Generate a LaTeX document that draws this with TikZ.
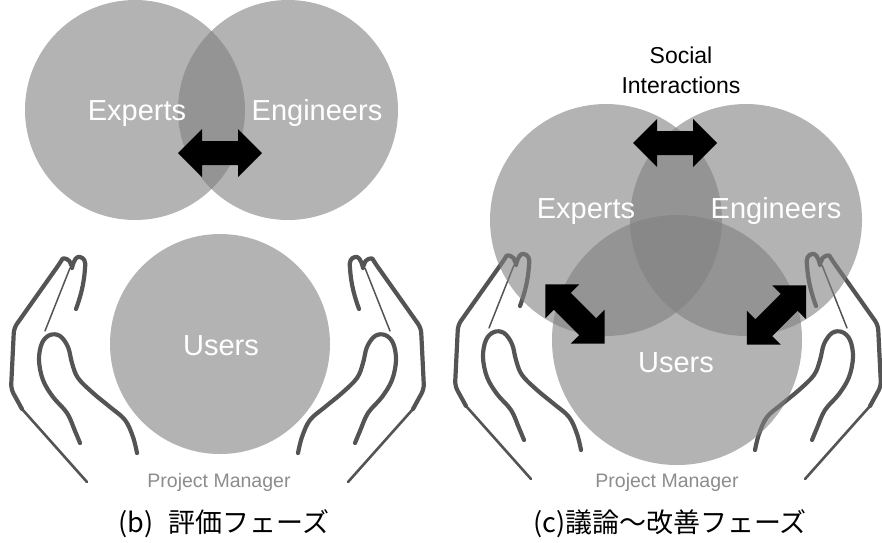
\documentclass[tikz,border=0pt]{standalone}
\usepackage{fontspec}
\setmainfont{Liberation Sans}
\newfontfamily\jpfont{Noto Sans CJK JP}
\definecolor{handgray}{HTML}{545454}
\definecolor{pmgray}{HTML}{8C8C8C}
\begin{document}
\begin{tikzpicture}[x=1pt,y=-1pt,
  handline/.style={draw=handgray, line width=4.2, line cap=round, line join=round},
  handtaper/.style={draw=handgray, line width=2.6, line cap=round, line join=round},
  handthin/.style={draw=handgray, line width=1.5, line cap=round},
  bubble/.style={circle, inner sep=0pt, fill=gray, fill opacity=0.6, draw=none},
  bubbletext/.style={text=white, anchor=base, font=\fontsize{29}{34}\selectfont},
  pmtext/.style={text=pmgray, anchor=base, font=\fontsize{19.5}{23}\selectfont},
  captiontext/.style={text=black, anchor=base, font=\jpfont\fontsize{27}{31}\selectfont},
  pics/hand/.style={code={
    % back of the hand down to the wrist
    \draw[handline, rounded corners=5] (22,409) -- (11,389) -- (14,328) -- (60,263)
      .. controls (63,258) and (70,258) .. (71,265);
    \draw[handtaper] (22,409) -- (87,482);
    % inner edge of the fingers
    \draw[handthin] (70,268) -- (45,331);
    % second fingertip
    \draw[handline] (72,268) .. controls (74,259) and (77,256) .. (80,257)
      .. controls (84,258) and (86,261) .. (85,268)
      .. controls (84,285) and (80,298) .. (76,309);
    % thumb
    \draw[handline] plot[smooth, tension=0.6] coordinates {(80,443) (75,431) (67,413) (53,397)
      (43,380) (39,360) (42,343) (50,335) (60,336) (68,347) (72,363) (78,378) (93,393)
      (110,407) (125,420) (133,437) (137,453)};
  }},
  pics/dblarrow/.style={code={
    \fill[black] (-42,0) -- (-18,-24) -- (-18,-12) -- (18,-12) -- (18,-24) -- (42,0)
      -- (18,24) -- (18,12) -- (-18,12) -- (-18,24) -- cycle;
  }}
]
\useasboundingbox (0,0) rectangle (882,542);

% ---------- (b) evaluation phase ----------
\pic at (0,0) {hand};
\pic[xscale=-1] at (435,0) {hand};

\node[bubble, minimum size=220pt] (expB) at (135,110) {};
\node[bubble, minimum size=220pt] (engB) at (288,110) {};
\node[bubble, minimum size=220pt] (usrB) at (220,344) {};

\node[bubbletext] (expBt) at (137,120) {Experts};
\node[bubbletext] (engBt) at (317,120) {Engineers};
\node[bubbletext] (usrBt) at (221,355) {Users};

\pic at (220,153) {dblarrow};

\node[pmtext] (pmB) at (219,487) {Project Manager};
\node[captiontext] (capB) at (224,532) {(b)\hspace{0.35em} 評価フェーズ};

% ---------- (c) discussion / improvement phase ----------
\pic at (444,-3) {hand};
\pic[xscale=-1] at (892,-3) {hand};

\node[bubble, minimum size=232pt] (expC) at (606,220) {};
\node[bubble, minimum size=232pt] (engC) at (746,220) {};
\node[bubble, minimum size=250pt] (usrC) at (677,340) {};

\node[bubbletext] (expCt) at (586,218) {Experts};
\node[bubbletext] (engCt) at (776,218) {Engineers};
\node[bubbletext] (usrCt) at (676,372) {Users};

\node[anchor=base, align=center, font=\fontsize{23}{30}\selectfont] (social) at (681,93)
  {Social\\Interactions};

\pic at (675,143) {dblarrow};
\pic[rotate=-45] at (575,314) {dblarrow};
\pic[rotate=45] at (776.5,315) {dblarrow};

\node[pmtext] (pmC) at (667,487) {Project Manager};
\node[captiontext] (capC) at (670,532) {(c)議論～改善フェーズ};
\end{tikzpicture}
\end{document}
